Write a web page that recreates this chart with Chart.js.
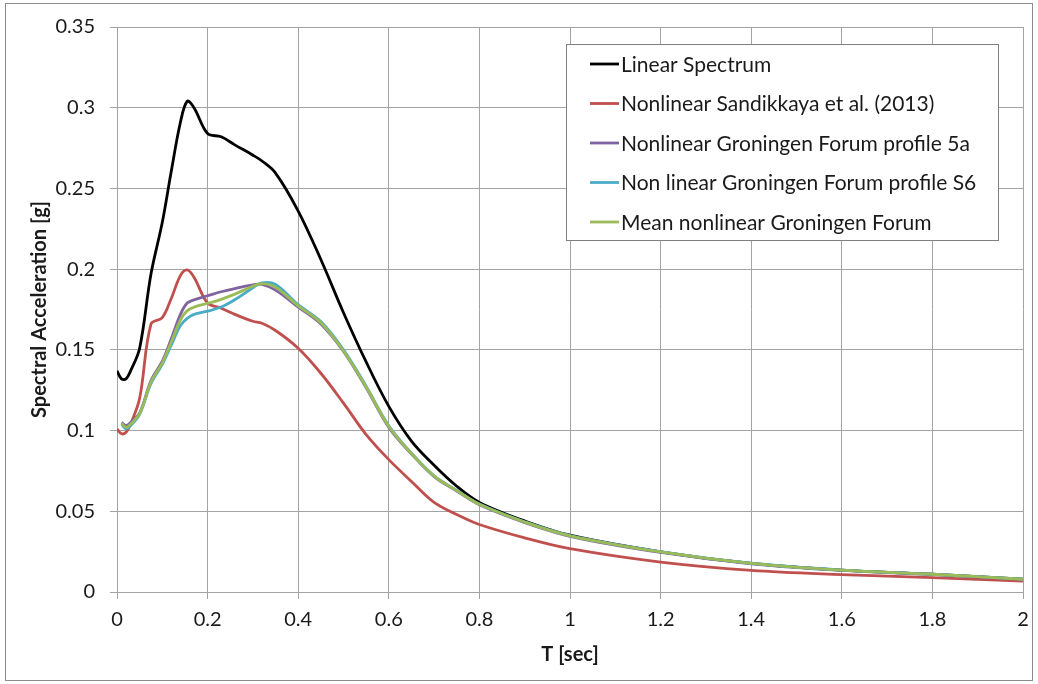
<!DOCTYPE html>
<html lang="en">
<head>
    <meta charset="UTF-8">
    <title>Response Spectra</title>
    <script src="https://cdn.jsdelivr.net/npm/chart.js"></script>
    <style>
        html, body {
            margin: 0;
            padding: 0;
            background: #ffffff;
        }
        #wrap {
            width: 1038px;
            height: 684px;
        }
    </style>
</head>
<body>
    <div id="wrap"><canvas id="spectra"></canvas></div>

    <script>
        // periods T [sec]
        const periods = [0, 0.01, 0.02, 0.03, 0.05, 0.075, 0.1, 0.12, 0.14, 0.155, 0.17, 0.2, 0.23, 0.26,
            0.3, 0.32, 0.35, 0.4, 0.45, 0.5, 0.55, 0.6, 0.65, 0.7, 0.75, 0.8, 0.9, 1.0, 1.2, 1.4, 1.6, 1.8, 2.0];

        // spectral acceleration [g]
        const linearSpectrum = [0.137, 0.132, 0.132, 0.137, 0.151, 0.197, 0.229, 0.261, 0.291, 0.304, 0.300, 0.284, 0.282, 0.277,
            0.2706, 0.267, 0.2595, 0.236, 0.206, 0.173, 0.1425, 0.115, 0.0935, 0.0785, 0.0655, 0.0555, 0.044, 0.0352, 0.0249, 0.0177, 0.0135, 0.011, 0.0079];
        const sandikkaya = [0.101, 0.098, 0.099, 0.104, 0.120, 0.166, 0.170, 0.182, 0.196, 0.1995, 0.195, 0.179, 0.1758, 0.172,
            0.1677, 0.1665, 0.162, 0.151, 0.1355, 0.117, 0.0975, 0.082, 0.0685, 0.0555, 0.048, 0.0418, 0.0335, 0.0268, 0.0185, 0.0134, 0.0108, 0.0089, 0.0068];
        const profile5a = [null, 0.105, 0.103, 0.105, 0.111, 0.131, 0.143, 0.157, 0.172, 0.179, 0.181, 0.1835, 0.186, 0.188,
            0.1903, 0.1905, 0.187, 0.1765, 0.166, 0.149, 0.1265, 0.102, 0.0855, 0.0715, 0.0625, 0.054, 0.043, 0.0345, 0.0245, 0.0175, 0.0134, 0.0109, 0.0078];
        const profileS6 = [null, 0.104, 0.101, 0.103, 0.110, 0.129, 0.141, 0.153, 0.165, 0.1695, 0.172, 0.174, 0.1765, 0.181,
            0.1885, 0.1915, 0.1905, 0.178, 0.1675, 0.150, 0.1275, 0.103, 0.086, 0.072, 0.063, 0.0545, 0.0435, 0.035, 0.025, 0.0178, 0.0136, 0.011, 0.008];
        const meanGroningen = [null, 0.1045, 0.102, 0.104, 0.1105, 0.130, 0.142, 0.155, 0.1685, 0.1743, 0.1765, 0.1788, 0.1813, 0.1845,
            0.1894, 0.191, 0.1888, 0.1773, 0.1668, 0.1493, 0.127, 0.1025, 0.0858, 0.0718, 0.0628, 0.0543, 0.0433, 0.0348, 0.0248, 0.0177, 0.0135, 0.011, 0.0079];

        const seriesNames = ["Linear Spectrum", "Nonlinear Sandikkaya et al. (2013)", "Nonlinear Groningen Forum profile 5a",
            "Non linear Groningen Forum profile S6", "Mean nonlinear Groningen Forum"];
        const seriesColors = ["#000000", "#c0504d", "#8064a2", "#4bacc6", "#9bbb59"];
        const seriesValues = [linearSpectrum, sandikkaya, profile5a, profileS6, meanGroningen];

        const FONT = "Lato, 'Open Sans', sans-serif";
        const TEXT = "#1a1a1a";
        const GRID = "#a3a3a3";

        function toPoints(values) {
            return periods.map((t, i) => ({ x: t, y: values[i] }));
        }

        // drop trailing zeros: 0.30 -> 0.3, 2.0 -> 2
        function shortNum(v) {
            return String(parseFloat(Number(v).toFixed(2)));
        }

        const datasets = seriesValues.map((vals, i) => ({
            label: seriesNames[i],
            data: toPoints(vals),
            borderColor: seriesColors[i],
            backgroundColor: seriesColors[i],
            borderWidth: 2.8,
            pointRadius: 0,
            tension: 0.35,
            fill: false,
            order: seriesValues.length - i   // later series painted on top
        }));

        // legend box + outer frame, drawn on top of the plot
        const frameAndLegend = {
            id: "frameAndLegend",
            afterDraw(chart) {
                const ctx = chart.ctx;
                ctx.save();
                ctx.strokeStyle = "#8c8c8c";
                ctx.lineWidth = 1;
                ctx.strokeRect(5.5, 3.5, 1027, 677);

                const box = { x: 566.5, y: 44.5, w: 432, h: 196 };
                ctx.fillStyle = "#ffffff";
                ctx.fillRect(box.x, box.y, box.w, box.h);
                ctx.strokeStyle = "#7f7f7f";
                ctx.strokeRect(box.x, box.y, box.w, box.h);

                ctx.font = "21px " + FONT;
                ctx.textBaseline = "middle";
                ctx.textAlign = "left";
                seriesNames.forEach((name, i) => {
                    const y = 64 + i * 39.5;
                    ctx.strokeStyle = seriesColors[i];
                    ctx.lineWidth = 2.8;
                    ctx.beginPath();
                    ctx.moveTo(590, y);
                    ctx.lineTo(619, y);
                    ctx.stroke();
                    ctx.fillStyle = TEXT;
                    ctx.fillText(name, 621, y + 1);
                });
                ctx.restore();
            }
        };

        new Chart(document.getElementById("spectra"), {
            type: "line",
            data: { datasets: datasets },
            options: {
                responsive: true,
                maintainAspectRatio: false,
                animation: false,
                layout: { padding: { left: 0, right: 15, top: 25, bottom: 0 } },
                plugins: {
                    legend: { display: false },
                    tooltip: { enabled: false }
                },
                scales: {
                    x: {
                        type: "linear",
                        min: 0,
                        max: 2,
                        ticks: {
                            stepSize: 0.2, color: TEXT, font: { family: FONT, size: 20 }, padding: 9, maxRotation: 0,
                            callback: shortNum
                        },
                        grid: { color: GRID, tickLength: 7 },
                        border: { color: GRID },
                        title: {
                            display: true,
                            text: "T [sec]",
                            color: TEXT,
                            font: { family: FONT, size: 20, weight: "bold" },
                            padding: { top: 0, bottom: 17 }
                        },
                        afterFit(scale) { scale.height = 92; }
                    },
                    y: {
                        min: 0,
                        max: 0.35,
                        ticks: {
                            stepSize: 0.05, color: TEXT, font: { family: FONT, size: 20 }, padding: 15,
                            callback: shortNum
                        },
                        grid: { color: GRID, tickLength: 7 },
                        border: { color: GRID },
                        title: {
                            display: true,
                            text: "Spectral Acceleration [g]",
                            color: TEXT,
                            font: { family: FONT, size: 20, weight: "bold" },
                            padding: { top: 28, bottom: 0 }
                        },
                        afterFit(scale) { scale.width = 117; }
                    }
                }
            },
            plugins: [frameAndLegend]
        });
    </script>
</body>
</html>
